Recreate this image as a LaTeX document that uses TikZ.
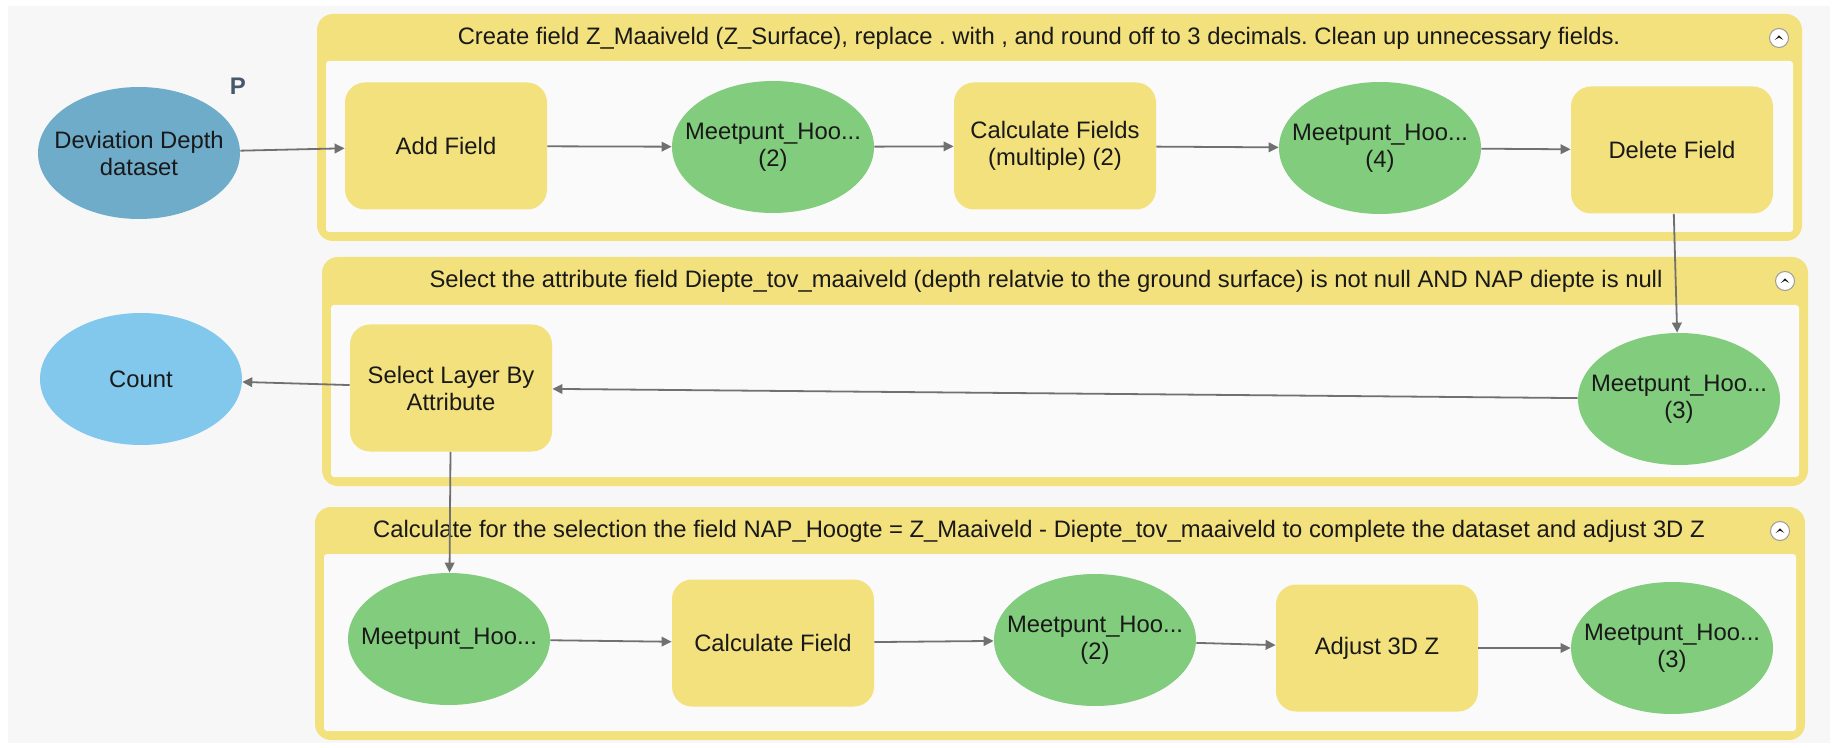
\documentclass[tikz,border=0pt]{standalone}
\usepackage{fontspec}
\setmainfont{Liberation Sans}
\usetikzlibrary{positioning,shapes.geometric,arrows.meta}
\frenchspacing
\definecolor{mbBack}{RGB}{247,247,247}
\definecolor{mbPanel}{RGB}{250,250,250}
\definecolor{mbYellow}{RGB}{242,225,125}
\definecolor{mbGreen}{RGB}{130,204,125}
\definecolor{mbInput}{RGB}{110,172,202}
\definecolor{mbOutput}{RGB}{130,200,236}
\definecolor{mbArrow}{RGB}{112,112,112}
\definecolor{mbText}{RGB}{25,25,25}
\definecolor{mbParam}{RGB}{72,88,108}
\tikzset{
    modelflow/.style={
        x=0.5pt, y=-0.5pt,
        font=\fontsize{11.9}{13.5}\selectfont,
        text=mbText,
        % Stile per i gruppi (riquadro giallo)
        group/.style={rectangle, fill=mbYellow, rounded corners=8pt,
                      inner sep=0pt},
        panel/.style={rectangle, fill=mbPanel, rounded corners=1.5pt,
                      inner sep=0pt},
        % Stile per gli strumenti (rettangolo arrotondato)
        tool/.style={rectangle, fill=mbYellow, rounded corners=10pt,
                     align=center, minimum width=101pt,
                     minimum height=63.5pt, inner sep=1pt},
        % Stile per i dati (ellisse)
        data/.style={ellipse, fill=mbGreen, align=center,
                     minimum width=101pt, minimum height=66pt,
                     inner xsep=-16pt, inner ysep=-8pt},
        % Bottone per chiudere il gruppo
        collapse/.style={circle, draw=mbArrow!70, fill=white,
                         line width=0.5pt, minimum size=9.5pt,
                         inner sep=0pt},
        flow/.style={draw=mbArrow, line width=0.9pt,
                     -{Triangle[length=5pt, width=4.8pt]}}
    }
}
\begin{document}
\begin{tikzpicture}[modelflow]
      \useasboundingbox (0,0) rectangle (1841,748);
      \fill[mbBack] (8,6) rectangle (1830,743);

      % gruppi
      \node[group, minimum width=742.5pt, minimum height=113.5pt] (grpA) at (1059.5,127.5) {};
      \node[panel, minimum width=733.5pt, minimum height=85.5pt] (panA) at (1059.5,146.5) {};
      \node (titA) at (1039,38) {Create field Z\_Maaiveld (Z\_Surface), replace . with , and round off to 3 decimals. Clean up unnecessary fields.};
      \node[collapse] (btnA) at (1779,38) {};

      \node[group, minimum width=743pt, minimum height=114.5pt] (grpB) at (1065,371.5) {};
      \node[panel, minimum width=734pt, minimum height=86pt] (panB) at (1065,391) {};
      \node (titB) at (1046,281) {Select the attribute field Diepte\_tov\_maaiveld (depth relatvie to the ground surface) is not null AND NAP diepte is null};
      \node[collapse] (btnB) at (1785,281) {};

      \node[group, minimum width=745pt, minimum height=116.5pt] (grpC) at (1060,623.5) {};
      \node[panel, minimum width=736pt, minimum height=88.5pt] (panC) at (1060,642.5) {};
      \node (titC) at (1039,531) {Calculate for the selection the field NAP\_Hoogte = Z\_Maaiveld - Diepte\_tov\_maaiveld to complete the dataset and adjust 3D Z};
      \node[collapse] (btnC) at (1780,531) {};

      \foreach \b in {btnA,btnB,btnC}
        \fill[mbText] (\b.center) +(-2.2pt,-1pt) -- +(0pt,1.3pt) -- +(2.2pt,-1pt) -- +(0pt,0.2pt) -- cycle;

      % nodi
      \node[data, fill=mbInput] (dev) at (139,153) {Deviation Depth\\dataset};
      \node[text=mbParam, font=\fontsize{12}{14}\bfseries] (par) at (238,86) {P};
      \node[tool] (addf) at (446,146) {Add Field};
      \node[data] (mtA) at (773,147) {Meetpunt\_Hoo...\\(2)};
      \node[tool] (calcs) at (1055,146) {Calculate Fields\\(multiple) (2)};
      \node[data] (mtB) at (1380,148) {Meetpunt\_Hoo...\\(4)};
      \node[tool] (delf) at (1672,150) {Delete Field};

      \node[data, fill=mbOutput] (cnt) at (141,379) {Count};
      \node[tool] (sel) at (451,388) {Select Layer By\\Attribute};
      \node[data] (mtC) at (1679,399) {Meetpunt\_Hoo...\\(3)};

      \node[data] (mtD) at (449,639) {Meetpunt\_Hoo...};
      \node[tool] (calc) at (773,643) {Calculate Field};
      \node[data] (mtE) at (1095,640) {Meetpunt\_Hoo...\\(2)};
      \node[tool] (adj) at (1377,648) {Adjust 3D Z};
      \node[data] (mtF) at (1672,648) {Meetpunt\_Hoo...\\(3)};

      % connessioni
      \draw[flow] (dev) -- (addf);
      \draw[flow] (addf) -- (mtA);
      \draw[flow] (mtA) -- (calcs);
      \draw[flow] (calcs) -- (mtB);
      \draw[flow] (mtB) -- (delf);
      \draw[flow] (delf) -- (mtC);
      \draw[flow] (mtC) -- (sel);
      \draw[flow] (sel) -- (cnt);
      \draw[flow] (sel) -- (mtD);
      \draw[flow] (mtD) -- (calc);
      \draw[flow] (calc) -- (mtE);
      \draw[flow] (mtE) -- (adj);
      \draw[flow] (adj) -- (mtF);
\end{tikzpicture}
\end{document}
